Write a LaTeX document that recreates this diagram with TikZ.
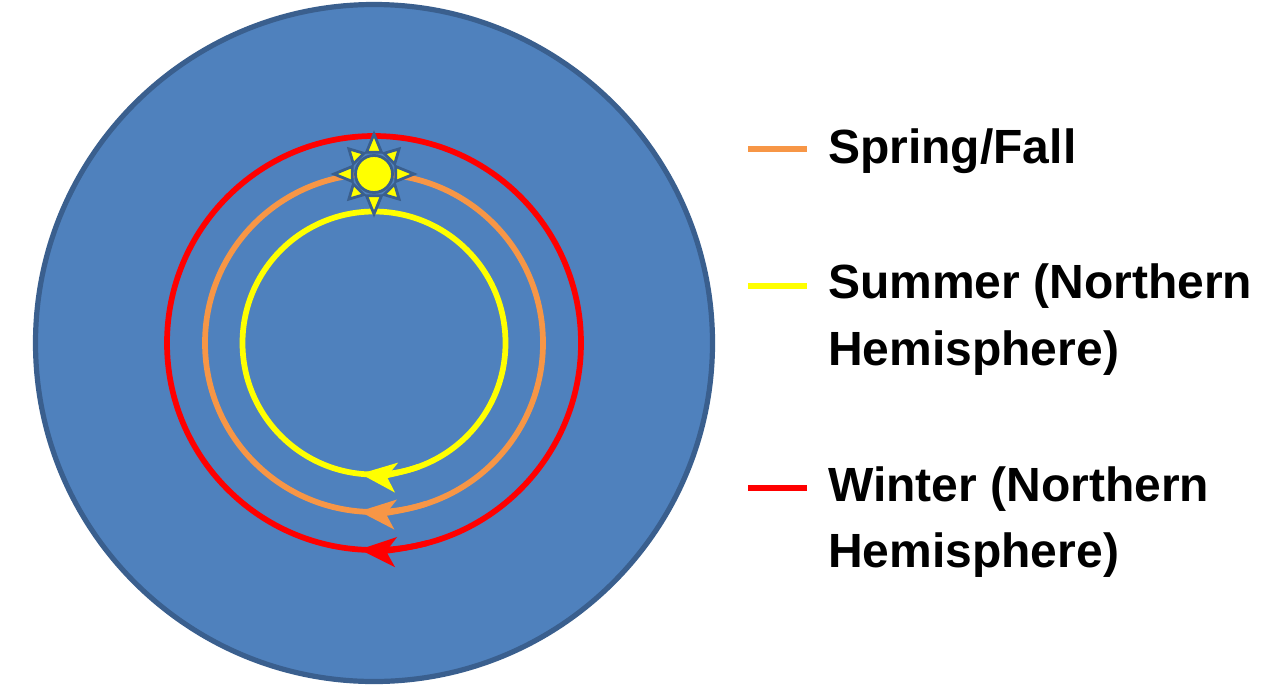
\documentclass[tikz,border=0pt]{standalone}
\usepackage{fontspec}
\setmainfont{Liberation Sans}
\usetikzlibrary{arrows.meta,calc}
\definecolor{skyblue}{HTML}{4F81BD}
\definecolor{skyedge}{HTML}{3A5F8E}
\definecolor{springc}{HTML}{F79646}
\definecolor{summerc}{HTML}{FFFF00}
\definecolor{winterc}{HTML}{FF0000}
\tikzset{
  orbit/.style={line width=4.3pt},
  orbitarrow/.style={line width=4.3pt, -{Stealth[length=27pt, width=22pt, inset=7pt]}},
  legline/.style={line width=4.3pt},
  legtext/.style={anchor=base west, inner sep=0pt, font=\fontsize{36pt}{50pt}\selectfont\bfseries},
  sunpart/.style={fill=summerc, draw=skyedge, line width=2.1pt, line join=miter},
}
\begin{document}
\begin{tikzpicture}[x=0.75pt, y=-0.75pt]
\useasboundingbox (0,0) rectangle (1280,686);
% sky
\coordinate (c) at (374,343);
\draw[fill=skyblue, draw=skyedge, line width=3.9pt] (c) circle[radius=338.5];
% orbits
\draw[orbit, winterc] (c) circle[radius=207];
\draw[orbit, springc] (c) circle[radius=169];
\draw[orbit, summerc] (c) circle[radius=131.5];
\draw[orbitarrow, winterc] (c) ++(75:207) arc[start angle=75, end angle=94, radius=207];
\draw[orbitarrow, springc] (c) ++(72:169) arc[start angle=72, end angle=95, radius=169];
\draw[orbitarrow, summerc] (c) ++(70:131.5) arc[start angle=70, end angle=96, radius=131.5];
% sun
\coordinate (s) at (374,174);
\foreach \a in {0,90,180,270}{
  \draw[sunpart] ($(s)+(\a-19:23)$) -- ($(s)+(\a:40)$) -- ($(s)+(\a+19:23)$) -- cycle;
}
\foreach \a in {45,135,225,315}{
  \draw[sunpart] ($(s)+(\a-19:23)$) -- ($(s)+(\a:35.5)$) -- ($(s)+(\a+19:23)$) -- cycle;
}
\draw[sunpart] (s) circle[radius=18.5];
% legend
\coordinate (l1a) at (748,149); \coordinate (l1b) at (807,149);
\coordinate (l2a) at (748,286); \coordinate (l2b) at (807,286);
\coordinate (l3a) at (748,488); \coordinate (l3b) at (807,488);
\draw[legline, springc] (l1a) -- (l1b);
\draw[legline, summerc] (l2a) -- (l2b);
\draw[legline, winterc] (l3a) -- (l3b);
\node[legtext] (t1) at (828,163) {Spring/Fall};
\node[legtext] (t2) at (828,298) {Summer (Northern};
\node[legtext] (t2b) at (828,365) {Hemisphere)};
\node[legtext] (t3) at (828,501) {Winter (Northern};
\node[legtext] (t3b) at (828,567) {Hemisphere)};
\end{tikzpicture}
\end{document}
